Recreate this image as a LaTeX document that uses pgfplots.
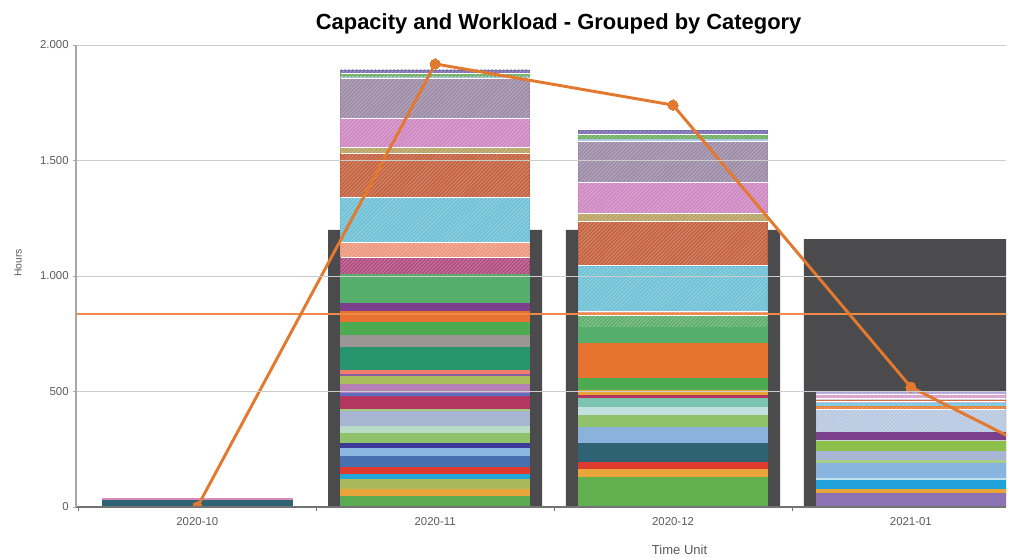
\documentclass[border=0pt]{standalone}
\usepackage{fontspec}
\setmainfont{Liberation Sans}
\usepackage{pgfplots}
\pgfplotsset{compat=1.18}
\usetikzlibrary{patterns.meta}
\definecolor{capgray}{HTML}{4B4B4D}
\definecolor{lineor}{HTML}{E3782F}
\definecolor{hor}{HTML}{EE8A45}
\definecolor{txtgray}{HTML}{5A5A5A}
\pgfplotsset{
  seg/.style={ybar, bar width=0.795, bar shift=0pt, draw=#1, line width=0.5bp, fill=#1, forget plot},
  hseg/.style={seg=#1, postaction={pattern={Lines[angle=45,distance=2bp,line width=0.6bp]}, pattern color=#1!72!white}},
}
\newcommand{\seg}[3]{\xglobal\definecolor{s#1x#2}{HTML}{#3}\addplot[seg=s#1x#2] coordinates {(#1,#2)};}
\newcommand{\hseg}[3]{\xglobal\definecolor{s#1x#2}{HTML}{#3}\addplot[hseg=s#1x#2] coordinates {(#1,#2)};}
\begin{document}
\begin{tikzpicture}
\begin{axis}[
  scale only axis,
  width=697.5bp, height=346.5bp,
  xmin=-0.51, xmax=3.4, ymin=0, ymax=2000,
  axis x line*=bottom, axis y line*=left,
  x axis line style={black!55, line width=0.8bp},
  y axis line style={black!35, line width=0.8bp},
  xtick={0,1,2,3},
  xticklabels={2020-10,2020-11,2020-12,2021-01},
  minor xtick={-0.5,0.5,1.5,2.5},
  major x tick style={draw=none},
  minor x tick style={black!55, line width=0.6bp},
  minor tick length=3bp,
  ytick={0,500,1000,1500,2000},
  major y tick style={black!35},
  major tick length=2bp,
  tick align=outside,
  ymajorgrids, grid style={black!20, line width=0.7bp},
  axis on top,
  clip marker paths=true,
  /pgf/number format/.cd, 1000 sep={.}, assume math mode=true, /pgfplots/.cd,
  ticklabel style={font=\fontsize{8.6}{10}\selectfont, text=txtgray},
  xticklabel style={yshift=-2bp},
  title={Capacity and Workload - Grouped by Category},
  title style={at={(rel axis cs:0.519,1)}, anchor=base, yshift=6bp, font=\fontsize{16.5}{18}\selectfont\bfseries},
  xlabel={Time Unit},
  xlabel style={at={(rel axis cs:0.649,0)}, anchor=center, yshift=-32.25bp, font=\fontsize{9.8}{11}\selectfont, text=txtgray},
  ylabel={Hours},
  ylabel style={at={(rel axis cs:0,0.528)}, anchor=center, yshift=43.5bp, font=\fontsize{7.8}{9}\selectfont, text=txtgray},
]
% capacity
\addplot[ybar, bar width=0.9, bar shift=0pt, draw=none, fill=capgray, forget plot] coordinates {(1,1200) (2,1200) (3,1160)};
% 2020-10
\seg{0}{37}{D88AB8}
\seg{0}{30}{2F6272}
% 2020-11
\hseg{1}{1892}{7E6FAE}
\hseg{1}{1878}{6DAE5E}
\hseg{1}{1862}{A8C4DE}
\hseg{1}{1856}{9C8BA6}
\hseg{1}{1682}{CF88C2}
\hseg{1}{1555}{B9A262}
\hseg{1}{1532}{C4623F}
\hseg{1}{1340}{6FC1D6}
\hseg{1}{1145}{EC977E}
\hseg{1}{1079}{B24C80}
\seg{1}{1008}{55AE6B}
\seg{1}{880}{7B3F8C}
\seg{1}{845}{E8722F}
\seg{1}{801}{4CAA50}
\seg{1}{744}{9C9595}
\seg{1}{691}{26946D}
\seg{1}{592}{F07C6C}
\seg{1}{575}{8E5AA0}
\seg{1}{565}{A9BE5B}
\seg{1}{530}{B77FB8}
\seg{1}{490}{5B6FC0}
\seg{1}{478}{B2365F}
\seg{1}{424}{A3CB7E}
\seg{1}{412}{A7B4D2}
\seg{1}{349}{BADCC6}
\seg{1}{318}{8FC26A}
\seg{1}{275}{3E3A99}
\seg{1}{252}{8AB8E2}
\seg{1}{220}{4670B0}
\seg{1}{170}{DE3A30}
\seg{1}{140}{22A8D8}
\seg{1}{120}{A9B85A}
\seg{1}{76}{E9A43A}
\seg{1}{46}{5AAB52}
% 2020-12
\hseg{2}{1630}{7B6FB0}
\hseg{2}{1612}{6FB060}
\hseg{2}{1590}{A9C8E0}
\hseg{2}{1582}{9C8BA6}
\hseg{2}{1404}{CF88C2}
\hseg{2}{1270}{B9A262}
\hseg{2}{1236}{C4623F}
\hseg{2}{1044}{6FC1D6}
\hseg{2}{848}{EC977E}
\hseg{2}{829}{5FAE6B}
\seg{2}{779}{55AE6B}
\seg{2}{710}{E8722F}
\seg{2}{555}{4CAA50}
\seg{2}{505}{E8A33A}
\seg{2}{483}{B2365F}
\seg{2}{470}{7CC4B0}
\seg{2}{431}{C2E0DD}
\seg{2}{396}{8FC26A}
\seg{2}{347}{8AB2DA}
\seg{2}{277}{2F6272}
\seg{2}{195}{DE3A30}
\seg{2}{162}{E9A43A}
\seg{2}{130}{62B04F}
% 2021-01
\hseg{3}{495}{B0A8D8}
\hseg{3}{485}{D8A0C8}
\hseg{3}{470}{D9C9D9}
\hseg{3}{462}{D07040}
\hseg{3}{455}{C8C0E0}
\hseg{3}{447}{78C8E0}
\hseg{3}{435}{E8803A}
\hseg{3}{423}{B8C8E0}
\seg{3}{323}{7B3F8C}
\seg{3}{290}{D0D0D8}
\seg{3}{284}{8CC04A}
\seg{3}{240}{A9B6D6}
\seg{3}{204}{A6D08A}
\seg{3}{190}{88B4E0}
\seg{3}{122}{C0E0F0}
\seg{3}{117}{22A2DA}
\seg{3}{76}{E9A43A}
\seg{3}{58}{8C72B2}
% white separators between hatched segments
\addplot[white, line width=0.7bp, unbounded coords=jump, forget plot] coordinates {
 (0.6025,1878) (1.3975,1878) (1,nan)
 (0.6025,1856) (1.3975,1856) (1,nan)
 (0.6025,1682) (1.3975,1682) (1,nan)
 (0.6025,1555) (1.3975,1555) (1,nan)
 (0.6025,1532) (1.3975,1532) (1,nan)
 (0.6025,1340) (1.3975,1340) (1,nan)
 (0.6025,1145) (1.3975,1145) (1,nan)
 (0.6025,1079) (1.3975,1079) (1,nan)
 (1.6025,1612) (2.3975,1612) (2,nan)
 (1.6025,1582) (2.3975,1582) (2,nan)
 (1.6025,1404) (2.3975,1404) (2,nan)
 (1.6025,1270) (2.3975,1270) (2,nan)
 (1.6025,1236) (2.3975,1236) (2,nan)
 (1.6025,1044) (2.3975,1044) (2,nan)
 (1.6025,848) (2.3975,848) (2,nan)
 (1.6025,829) (2.3975,829) (2,nan)
 (2.6025,485) (3.3975,485) (3,nan)
 (2.6025,470) (3.3975,470) (3,nan)
 (2.6025,455) (3.3975,455) (3,nan)
 (2.6025,423) (3.3975,423)
};
% average line
\addplot[hor, line width=1bp, forget plot] coordinates {(-1,835) (5,835)};
% workload/capacity line
\addplot[lineor, line width=2.2bp, mark=*, mark size=3.8bp, mark options={fill=lineor, draw=lineor, line width=0pt}] coordinates {(0,0) (1,1918) (2,1740) (3,519) (4,0)};
\coordinate (LL) at (rel axis cs:0,0);
\coordinate (UR) at (rel axis cs:1,1);
\end{axis}
\pgfresetboundingbox
\path[use as bounding box] ([shift={(-57bp,-38.25bp)}]LL) rectangle ([shift={(6bp,33.75bp)}]UR);
\end{tikzpicture}
\end{document}
